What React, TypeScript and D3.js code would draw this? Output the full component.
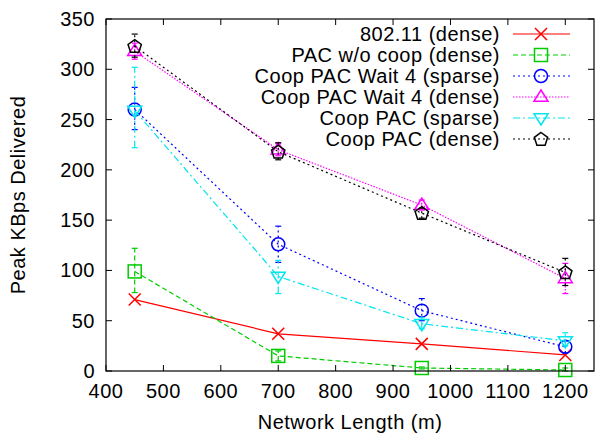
import React from "react";
import * as d3 from "d3";

const xValues = [450, 700, 950, 1200];
const xTicks = [400, 500, 600, 700, 800, 900, 1000, 1100, 1200];
const yTicks = [0, 50, 100, 150, 200, 250, 300, 350];

const seriesNames = [
  "802.11 (dense)",
  "PAC w/o coop (dense)",
  "Coop PAC Wait 4 (sparse)",
  "Coop PAC Wait 4 (dense)",
  "Coop PAC (sparse)",
  "Coop PAC (dense)",
];
const v80211 = [71, 37, 27, 16];
const lo80211 = [71, 37, 27, 16];
const hi80211 = [71, 37, 27, 16];
const vPacNoCoop = [99, 15, 3, 1];
const loPacNoCoop = [78, 10, 2, 0];
const hiPacNoCoop = [122, 20, 4, 3];
const vWait4Sparse = [260, 126, 60, 24];
const loWait4Sparse = [240, 108, 50, 18];
const hiWait4Sparse = [282, 144, 72, 30];
const vWait4Dense = [318, 220, 165, 92];
const loWait4Dense = [310, 214, 160, 77];
const hiWait4Dense = [326, 226, 170, 107];
const vCoopSparse = [259, 94, 47, 30];
const loCoopSparse = [222, 77, 42, 25];
const hiCoopSparse = [302, 110, 53, 38];
const vCoopDense = [323, 218, 157, 98];
const loCoopDense = [312, 210, 152, 85];
const hiCoopDense = [335, 227, 162, 112];

const colors = ["#ff0000", "#00cc00", "#0000ff", "#ff00ff", "#00e5ee", "#000000"];
const dashes = ["", "5,3", "2,3", "1.5,1.5", "7,3,2,3", "2,3"];
const markers = ["x", "square", "circle", "tri", "tridown", "pent"];

const series = [
  { v: v80211, lo: lo80211, hi: hi80211 },
  { v: vPacNoCoop, lo: loPacNoCoop, hi: hiPacNoCoop },
  { v: vWait4Sparse, lo: loWait4Sparse, hi: hiWait4Sparse },
  { v: vWait4Dense, lo: loWait4Dense, hi: hiWait4Dense },
  { v: vCoopSparse, lo: loCoopSparse, hi: hiCoopSparse },
  { v: vCoopDense, lo: loCoopDense, hi: hiCoopDense },
];

const W = 595, H = 437;
const L = 106, R = 594, T = 19, B = 371;
const FONT = "'Liberation Sans', Arial, Helvetica, sans-serif";
const FS = 20;
const LS = 0.5;

function Marker({ kind, x, y, color }: { kind: string; x: number; y: number; color: string }) {
  const sw = 1.5;
  if (kind === "x") {
    const s = 6;
    return (
      <path d={`M${x - s},${y - s}L${x + s},${y + s}M${x - s},${y + s}L${x + s},${y - s}`} stroke={color} strokeWidth={sw} fill="none" />
    );
  }
  if (kind === "square") {
    const s = 6.5;
    return <rect x={x - s} y={y - s} width={2 * s} height={2 * s} stroke={color} strokeWidth={sw} fill="none" />;
  }
  if (kind === "circle") {
    return <circle cx={x} cy={y} r={6.5} stroke={color} strokeWidth={sw} fill="none" />;
  }
  if (kind === "tri") {
    const s = 7;
    return <path d={`M${x},${y - s}L${x + s},${y + s * 0.6}L${x - s},${y + s * 0.6}Z`} stroke={color} strokeWidth={sw} fill="none" />;
  }
  if (kind === "tridown") {
    const s = 7;
    return <path d={`M${x},${y + s}L${x + s},${y - s * 0.6}L${x - s},${y - s * 0.6}Z`} stroke={color} strokeWidth={sw} fill="none" />;
  }
  const r = 7;
  const pts = d3.range(5).map((i) => {
    const a = -Math.PI / 2 + (i * 2 * Math.PI) / 5;
    return [x + r * Math.cos(a), y + r * Math.sin(a) + 0.5];
  });
  return <path d={"M" + pts.map((p) => p.join(",")).join("L") + "Z"} stroke={color} strokeWidth={sw} fill="none" />;
}

export default function App() {
  const xs = d3.scaleLinear().domain([400, 1250]).range([L, R]);
  const ys = d3.scaleLinear().domain([0, 350]).range([B, T]);
  const line = d3.line<number>().x((_, i) => xs(xValues[i])).y((d) => ys(d));
  const legendY = (i: number) => 34 + i * 21;

  return (
    <svg width={W} height={H} style={{ position: "absolute", left: 0, top: 0, background: "#fff" }} fontFamily={FONT}>
      <rect width={W} height={H} fill="#fff" />
      {series.map((s, si) => (
        <g key={si}>
          <path d={line(s.v) || ""} fill="none" stroke={colors[si]} strokeWidth={1.2} strokeDasharray={dashes[si]} />
          {s.v.map((v, i) =>
            s.hi[i] !== s.lo[i] ? (
              <g key={i}>
                <line x1={xs(xValues[i])} x2={xs(xValues[i])} y1={ys(s.lo[i])} y2={ys(s.hi[i])} stroke={colors[si]} strokeWidth={1.2} strokeDasharray={dashes[si]} />
                <line x1={xs(xValues[i]) - 3} x2={xs(xValues[i]) + 3} y1={ys(s.lo[i])} y2={ys(s.lo[i])} stroke={colors[si]} strokeWidth={1.2} />
                <line x1={xs(xValues[i]) - 3} x2={xs(xValues[i]) + 3} y1={ys(s.hi[i])} y2={ys(s.hi[i])} stroke={colors[si]} strokeWidth={1.2} />
              </g>
            ) : null
          )}
          {s.v.map((v, i) => (
            <Marker key={"m" + i} kind={markers[si]} x={xs(xValues[i])} y={ys(v)} color={colors[si]} />
          ))}
        </g>
      ))}
      <rect x={L} y={T} width={R - L} height={B - T} fill="none" stroke="#000" strokeWidth={1.2} />
      {xTicks.map((t) => (
        <g key={"x" + t}>
          <line x1={xs(t)} x2={xs(t)} y1={B} y2={B - 6} stroke="#000" />
          <line x1={xs(t)} x2={xs(t)} y1={T} y2={T + 6} stroke="#000" />
          <text x={xs(t)} y={B + 27} fontSize={FS} letterSpacing={LS} textAnchor="middle" fill="#000">{t}</text>
        </g>
      ))}
      {yTicks.map((t) => (
        <g key={"y" + t}>
          <line x1={L} x2={L + 6} y1={ys(t)} y2={ys(t)} stroke="#000" />
          <line x1={R} x2={R - 6} y1={ys(t)} y2={ys(t)} stroke="#000" />
          <text x={95} y={ys(t) + 7} fontSize={FS} letterSpacing={LS} textAnchor="end" fill="#000">{t}</text>
        </g>
      ))}
      <text x={(L + R) / 2} y={429} fontSize={FS} letterSpacing={LS} textAnchor="middle" fill="#000">Network Length (m)</text>
      <text transform={`translate(25,${(T + B) / 2}) rotate(-90)`} fontSize={FS} letterSpacing={LS} textAnchor="middle" fill="#000">Peak KBps Delivered</text>
      {seriesNames.map((n, i) => (
        <g key={"l" + i}>
          <text x={500} y={legendY(i) + 7} fontSize={FS} letterSpacing={LS} textAnchor="end" fill="#000">{n}</text>
          <line x1={513} x2={570} y1={legendY(i)} y2={legendY(i)} stroke={colors[i]} strokeWidth={1.2} strokeDasharray={dashes[i]} />
          <Marker kind={markers[i]} x={541} y={legendY(i)} color={colors[i]} />
        </g>
      ))}
    </svg>
  );
}
